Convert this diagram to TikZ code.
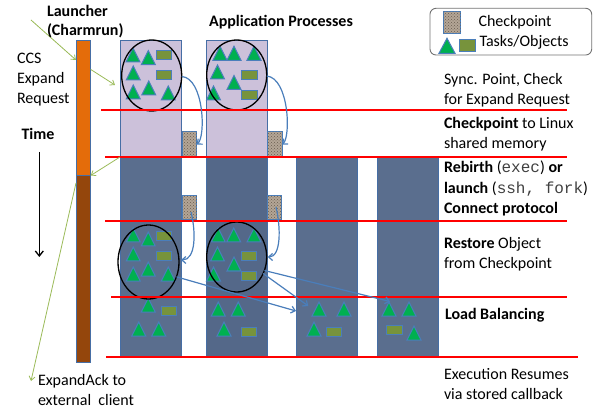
\documentclass[tikz,border=0pt]{standalone}
\usepackage{fontspec}
\setmainfont{Carlito}
\setmonofont{Liberation Mono}
\usetikzlibrary{shapes.geometric,arrows.meta,patterns}
\definecolor{lav}{RGB}{204,193,218}
\definecolor{darkcol}{RGB}{90,110,142}
\definecolor{darkcolb}{RGB}{84,104,137}
\definecolor{colborder}{RGB}{70,110,165}
\definecolor{orangebar}{RGB}{228,108,10}
\definecolor{brownbar}{RGB}{148,70,12}
\definecolor{taskgreen}{RGB}{0,176,80}
\definecolor{objolive}{RGB}{119,147,60}
\definecolor{taskborder}{RGB}{74,126,187}
\definecolor{migblue}{RGB}{74,126,187}
\definecolor{conngreen}{RGB}{155,187,89}
\definecolor{ckfill}{RGB}{180,166,150}
\definecolor{ckdot}{RGB}{105,92,80}
\begin{document}
\begin{tikzpicture}[x=1pt,y=-1pt,
  every node/.style={inner sep=0pt,outer sep=0pt},
  txt/.style={font=\fontsize{16}{20}\selectfont,anchor=west,align=left,text=black},
  colbox/.style={draw=colborder,line width=0.9pt,minimum width=61pt},
  barbox/.style={draw=colborder,line width=0.7pt,minimum width=14.7pt},
  ckbox/.style={draw=taskborder,line width=1pt,fill=ckfill,postaction={pattern=crosshatch dots,pattern color=ckdot}},
  oval/.style={ellipse,draw=black,line width=1.3pt},
  redline/.style={draw=red,line width=2pt},
  mig/.style={draw=migblue,line width=1.2pt,-{Straight Barb[length=4pt,width=7pt]}},
  gconn/.style={draw=conngreen,line width=0.8pt,-{Straight Barb[length=4pt,width=6pt]}},
  tsk/.pic={\draw[fill=taskgreen,draw=taskborder,line width=1pt] (-7,7) -- (0,-7) -- (7,7) -- cycle;},
  obj/.pic={\draw[fill=objolive,draw=taskborder,line width=1pt] (-7.8,-4.4) rectangle (7.8,4.4);}
]
\useasboundingbox (0,0) rectangle (596,411);

% launcher bar
\node[barbox,fill=orangebar,minimum height=135.5pt] (launchO) at (83.35,107.75) {};
\node[barbox,fill=brownbar,minimum height=186.5pt] (launchB) at (83.35,268.75) {};

% application process columns
\node[colbox,fill=lav,minimum height=117pt] (c1t) at (150.5,98.5) {};
\node[colbox,fill=lav,minimum height=117pt] (c2t) at (236.5,98.5) {};
\node[colbox,fill=darkcol,minimum height=200pt] (c1b) at (150.5,257) {};
\node[colbox,fill=darkcolb,minimum height=200pt] (c2b) at (236.5,257) {};
\node[colbox,fill=darkcol,minimum height=200pt] (c3b) at (326.5,257) {};
\node[colbox,fill=darkcol,minimum height=200pt] (c4b) at (407.5,257) {};

% checkpoint squares
\node[ckbox,minimum width=14.5pt,minimum height=25pt] (ck1) at (189.3,144.5) {};
\node[ckbox,minimum width=14.5pt,minimum height=25pt] (ck2) at (274.8,144.5) {};
\node[ckbox,minimum width=14.5pt,minimum height=24pt] (ck3) at (189.5,208) {};
\node[ckbox,minimum width=14.5pt,minimum height=24pt] (ck4) at (274.5,208) {};

% tasks / objects : column 1 top
\foreach \p in {(133,55),(148.3,57.7),(133.3,73),(133.3,92),(148.8,88),(168.3,93)} \pic at \p {tsk};
\foreach \p in {(163.8,55),(163.8,75)} \pic at \p {obj};
% column 2 top
\foreach \p in {(220,53.3),(234,53.3),(254,53.3),(217.5,72),(234,82.5),(213.5,93)} \pic at \p {tsk};
\foreach \p in {(249.2,75.3),(249.2,95.3)} \pic at \p {obj};
% column 1 restored
\foreach \p in {(133.3,235),(148.3,239),(133.3,254),(133.3,274),(148.3,269),(168.3,274)} \pic at \p {tsk};
\foreach \p in {(164,236),(164,256)} \pic at \p {obj};
% column 2 restored
\foreach \p in {(218.3,235),(233.7,235),(254,235),(217.5,254),(234,264),(213.5,274)} \pic at \p {tsk};
\foreach \p in {(249,256),(249,276)} \pic at \p {obj};
% after load balancing
\foreach \p in {(148.3,305),(138.8,329),(158.8,329),
                (218.3,309),(238.3,309),(224,329),
                (319,309),(344,309),(314,329),
                (389,309),(409,309),(414,333)} \pic at \p {tsk};
\foreach \p in {(169,311),(249,332),(333.8,331.7),(394.7,330)} \pic at \p {obj};

% ellipses
\node[oval,minimum width=60pt,minimum height=71pt] (e1) at (151.7,75.5) {};
\node[oval,minimum width=60pt,minimum height=70pt] (e2) at (236.7,75) {};
\node[oval,minimum width=61pt,minimum height=74pt] (e3) at (148.5,262) {};
\node[oval,minimum width=60pt,minimum height=70pt] (e4) at (236.7,257) {};

% red lines
\draw[redline] (101,110) -- (567,110);
\draw[redline] (105,157) -- (567,157);
\draw[redline] (105,221) -- (567,221);
\draw[redline] (111,297) -- (567,297);
\draw[redline] (106,357) -- (578,357);

% migration arrows
\draw[mig] ([yshift=-1pt]e1.east) .. controls (204,78) and (206,137) .. (ck1.east);
\draw[mig] ([yshift=-1pt]e2.east) .. controls (289,78) and (291,137) .. (ck2.east);
\draw[mig] ([xshift=1.5pt,yshift=-4pt]ck3.center) .. controls (196,232) and (196,260) .. ([xshift=2pt,yshift=2pt]e3.east);
\draw[mig] ([xshift=1.5pt,yshift=1pt]ck4.center) .. controls (281,228) and (281,257) .. ([xshift=1pt]e4.east);
\coordinate (m1) at (296,311);
\coordinate (m2) at (390,301.5);
\coordinate (m3) at (308.3,306);
\draw[mig] (e3.-28) -- (m1);
\draw[mig] (e4.-26) -- (m2);
\draw[mig] (e4.-32) -- (m3);

% launcher connectors
\coordinate (g0) at (31,20);
\coordinate (g1) at (115,85);
\coordinate (g2) at (31,381);
\draw[gconn] (g0) -- ([yshift=47.75pt]launchO.west);
\draw[gconn] ([yshift=38.3pt]launchO.east) -- (g1);
\draw[gconn] (c1b.north west) -- (launchO.south east);
\draw[gconn] ([yshift=85.75pt]launchB.west) -- (g2);

% time arrow
\coordinate (t1) at (39.3,152);
\coordinate (t2) at (39.3,257);
\draw[black,line width=1.3pt,-{Straight Barb[length=5pt,width=8pt]}] (t1) -- (t2);

% labels
\node[txt,font=\fontsize{16}{19}\selectfont\bfseries] (launchlbl) at (47,21.5) {Launcher\\(Charmrun)};
\node[txt,font=\fontsize{16}{20}\selectfont\bfseries,anchor=center] (applbl) at (281,22) {Application Processes};
\node[txt] (ccs) at (17,80) {CCS\\Expand\\Request};
\node[txt,font=\fontsize{16}{20}\selectfont\bfseries] (time) at (21.5,134) {Time};
\node[txt] (ack) at (38,390) {ExpandAck to\\external~ client};

\node[txt] (s1) at (444,90) {Sync. Point, Check\\for Expand Request};
\node[txt] (s2) at (444,134) {\textbf{Checkpoint} to Linux\\shared memory};
\node[txt,font=\fontsize{16}{20.5}\selectfont] (s3) at (444,188.5) {\textbf{Rebirth} ({\ttfamily\color{black!75}exec}) \textbf{or}\\\textbf{launch} ({\ttfamily\color{black!75}ssh, fork})\\\textbf{Connect protocol}};
\node[txt] (s4) at (444,254) {\textbf{Restore} Object\\from Checkpoint};
\node[txt,font=\fontsize{16}{20}\selectfont\bfseries] (s5) at (445,315) {Load Balancing};
\node[txt] (s6) at (444,384.5) {Execution Resumes\\via stored callback};

% legend
\draw[draw=black!55,line width=0.9pt,fill=white,rounded corners=6pt] (430,8.3) rectangle (591.7,55);
\node[ckbox,minimum width=17.4pt,minimum height=21.6pt] (lck) at (452,22.5) {};
\draw[fill=taskgreen,draw=taskborder,line width=1pt] (439,53.3) -- (447,38.3) -- (455,53.3) -- cycle;
\draw[fill=objolive,draw=taskborder,line width=1pt] (459.3,40) rectangle (475,51.7);
\node[txt] (l1) at (479,22.5) {\hspace{-0.5pt}Checkpoint};
\node[txt] (l2) at (479.5,42.7) {Tasks/Objects};
\end{tikzpicture}
\end{document}
